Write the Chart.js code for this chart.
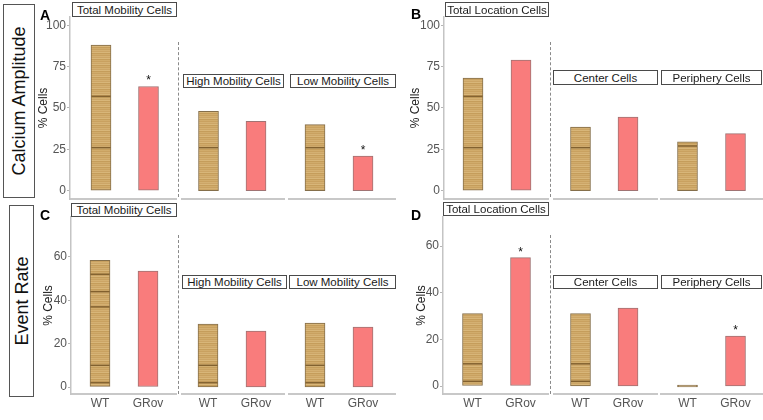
<!DOCTYPE html>
<html><head><meta charset="utf-8">
<script src="https://cdn.jsdelivr.net/npm/chart.js@4.4.1/dist/chart.umd.min.js"></script>
<style>
html,body{margin:0;padding:0;background:#fff;}
body{width:763px;height:420px;position:relative;overflow:hidden;font-family:'Liberation Sans',Arial,sans-serif;}
canvas{position:absolute;}
.strip{position:absolute;box-sizing:border-box;border:1px solid #4a4a4a;background:#fff;font-size:11.5px;color:#1a1a1a;display:flex;align-items:center;justify-content:center;white-space:nowrap;overflow:hidden;z-index:2;}
.row{position:absolute;box-sizing:border-box;border:1px solid #555;background:#fff;}
.row span{position:absolute;left:50%;top:50%;transform:translate(-50%,-50%) rotate(-90deg);font-size:18px;white-space:nowrap;color:#111;}
.letter{position:absolute;font-weight:bold;font-size:14px;line-height:1;color:#000;z-index:3;}
.dash{position:absolute;border-left:1px dashed #8a8a8a;width:0;z-index:1;}
</style></head><body>
<script>
// ---------- data ----------
const groups = ['WT', 'GRov'];
const mobilityFacets = ['Total Mobility Cells', 'High Mobility Cells', 'Low Mobility Cells'];
const locationFacets = ['Total Location Cells', 'Center Cells', 'Periphery Cells'];
const ampTicks = [0, 25, 50, 75, 100];
const rateTicks = [0, 20, 40, 60];

// Calcium Amplitude (% cells) [WT, GRov]
const ampTotalMobility = [88, 63];
const ampHighMobility = [48, 42];
const ampLowMobility = [40, 21];
const ampTotalLocation = [68, 79];
const ampCenter = [38.5, 44.5];
const ampPeriphery = [29.5, 34.5];
// Event Rate (% cells) [WT, GRov]
const rateTotalMobility = [58.5, 53.5];
const rateHighMobility = [29, 25.8];
const rateLowMobility = [29.5, 27.7];
const rateTotalLocation = [31, 55];
const rateCenter = [31, 33.4];
const ratePeriphery = [0, 21.4];

// significance markers per facet [WT, GRov]
const sigAmpMobility = [['', '*'], ['', ''], ['', '*']];
const sigAmpLocation = [['', ''], ['', ''], ['', '']];
const sigRateMobility = [['', ''], ['', ''], ['', '']];
const sigRateLocation = [['', '*'], ['', ''], ['', '*']];

// darker stripe levels visible inside WT bars
const bandsAmpMobility = [[26, 57], [26], [26]];
const bandsAmpLocation = [[26, 57], [26], [27]];
const bandsRateMobility = [[2, 10, 37, 44, 52], [2, 10], [2, 10]];
const bandsRateLocation = [[2, 9.5], [2, 9.5], []];

// ---------- layout ----------
const FONT = "'Liberation Sans', Arial, sans-serif";
Chart.defaults.font.family = FONT;

const panels = [
  { letter: 'A', lx: 40, ly: 8, facets: mobilityFacets,
    values: [ampTotalMobility, ampHighMobility, ampLowMobility], sig: sigAmpMobility, bands: bandsAmpMobility,
    ticks: ampTicks, zero: 190.7, ppu: 1.6545, top: 17, bottom: 199, xLabels: false, yAxisW: 34,
    bounds: [[70, 177], [181, 285], [288, 396]], centers: [[101, 148.5], [208.5, 256], [315, 363]],
    strips: [[72, 2, 177, 17], [183, 74, 284, 88], [290, 74, 396, 88]], dash: [178, 42, 197] },
  { letter: 'B', lx: 411, ly: 7, facets: locationFacets,
    values: [ampTotalLocation, ampCenter, ampPeriphery], sig: sigAmpLocation, bands: bandsAmpLocation,
    ticks: ampTicks, zero: 190.7, ppu: 1.6545, top: 17, bottom: 199, xLabels: false, yAxisW: 36,
    bounds: [[444, 549], [553, 658], [660, 763]], centers: [[473, 521], [580.5, 628], [687.5, 735.5]],
    strips: [[445, 2, 549, 17], [553, 70, 658, 85], [661, 70, 762, 85]], dash: [550, 42, 197] },
  { letter: 'C', lx: 40, ly: 208, facets: mobilityFacets,
    values: [rateTotalMobility, rateHighMobility, rateLowMobility], sig: sigRateMobility, bands: bandsRateMobility,
    ticks: rateTicks, zero: 387, ppu: 2.167, top: 217, bottom: 394, xLabels: true, yAxisW: 30,
    bounds: [[71, 177], [181, 285], [288, 396]], centers: [[100, 148], [208, 256], [315, 363]],
    strips: [[71, 203, 177, 217], [182, 275, 287, 289], [289, 275, 396, 289]], dash: [178, 235, 394] },
  { letter: 'D', lx: 411, ly: 208, facets: locationFacets,
    values: [rateTotalLocation, rateCenter, ratePeriphery], sig: sigRateLocation, bands: bandsRateLocation,
    ticks: rateTicks, zero: 386, ppu: 2.333, top: 217, bottom: 394, xLabels: true, yAxisW: 29,
    bounds: [[443, 549], [553, 658], [660, 763]], centers: [[472.5, 520.5], [580.5, 628], [687.5, 735.5]],
    strips: [[443, 202, 549, 216], [553, 275, 658, 289], [661, 275, 762, 289]], dash: [550, 235, 394] }
];

// WT stripe pattern
function makeWtPattern() {
  const p = document.createElement('canvas');
  p.width = 4; p.height = 6;
  const c = p.getContext('2d');
  const rows = ['#C9A160', '#D4B072', '#CCA566', '#D8B679', '#C59D5B', '#D1AC6C'];
  rows.forEach((col, i) => { c.fillStyle = col; c.fillRect(0, i, 4, 1); });
  return document.createElement('canvas').getContext('2d').createPattern(p, 'repeat');
}
const GROV_COLOR = '#F97C7C';

function addDiv(cls, css, html) {
  const d = document.createElement('div');
  d.className = cls; d.style.cssText = css;
  if (html !== undefined) d.innerHTML = html;
  document.body.appendChild(d);
  return d;
}

// row labels
addDiv('row', 'left:3px;top:4px;width:32px;height:194px;', '<span>Calcium Amplitude</span>');
addDiv('row', 'left:9px;top:205px;width:25px;height:192px;', '<span>Event Rate</span>');

panels.forEach(p => {
  addDiv('letter', `left:${p.lx}px;top:${p.ly}px;`, p.letter);
  const [dx, dy1, dy2] = p.dash;
  addDiv('dash', `left:${dx}px;top:${dy1}px;height:${dy2 - dy1}px;`);
  p.facets.forEach((name, fi) => {
    const [x1, y1, x2, y2] = p.strips[fi];
    addDiv('strip', `left:${x1}px;top:${y1}px;width:${x2 - x1}px;height:${y2 - y1}px;`, name);
    makeFacetChart(p, fi);
  });
});

function makeFacetChart(p, fi) {
  const [L, R] = p.bounds[fi];
  const [c1, c2] = p.centers[fi];
  const first = fi === 0;
  const yW = first ? p.yAxisW : 0;
  const xH = p.xLabels ? 24 : 10;
  const padTop = 10;
  const left = L - yW, top = p.top - padTop;
  const w = R - left, h = p.bottom + xH - top;
  const cv = document.createElement('canvas');
  cv.width = w; cv.height = h;
  cv.style.left = left + 'px'; cv.style.top = top + 'px';
  cv.style.width = w + 'px'; cv.style.height = h + 'px';
  document.body.appendChild(cv);

  const s = c2 - c1;
  const xmin = 1 - (c1 - L) / s;
  const xmax = 2 + (R - c2) / s;
  const yMin = -(p.bottom - p.zero) / p.ppu;
  const yMax = (p.zero - p.top) / p.ppu;
  const vals = p.values[fi];
  const marks = p.sig[fi];
  const bands = p.bands[fi];

  const markPlugin = {
    id: 'marks',
    afterDatasetsDraw(chart) {
      const ctx = chart.ctx;
      const meta = chart.getDatasetMeta(0);
      const ys = chart.scales.y;
      const wt = meta.data[0];
      ctx.save();
      ctx.strokeStyle = 'rgba(105,75,30,0.75)';
      ctx.lineWidth = 1.5;
      bands.forEach(b => {
        const y = ys.getPixelForValue(b);
        ctx.beginPath();
        ctx.moveTo(wt.x - wt.width / 2 + 0.5, y);
        ctx.lineTo(wt.x + wt.width / 2 - 0.5, y);
        ctx.stroke();
      });
      ctx.fillStyle = '#111';
      ctx.font = '12px ' + FONT;
      ctx.textAlign = 'center';
      ctx.textBaseline = 'alphabetic';
      marks.forEach((m, i) => {
        if (!m) return;
        const el = meta.data[i];
        ctx.fillText(m, el.x, el.y - 2);
      });
      ctx.restore();
    }
  };

  new Chart(cv, {
    type: 'bar',
    data: {
      datasets: [{
        data: vals.map((v, i) => ({ x: i + 1, y: v })),
        backgroundColor: [makeWtPattern(), GROV_COLOR],
        borderColor: ['rgba(120,95,55,0.9)', 'rgba(150,100,100,0.9)'],
        borderWidth: 1,
        borderSkipped: false,
        barThickness: 20,
        minBarLength: 2
      }]
    },
    options: {
      responsive: false,
      animation: false,
      devicePixelRatio: 1,
      layout: { padding: { top: padTop, left: 0, right: 0, bottom: 0 } },
      plugins: { legend: { display: false }, tooltip: { enabled: false } },
      scales: {
        x: {
          type: 'linear', offset: false, min: xmin, max: xmax,
          afterBuildTicks: sc => { sc.ticks = groups.map((g, i) => ({ value: i + 1 })); },
          ticks: { display: p.xLabels, callback: v => groups[v - 1], font: { size: 12 }, color: '#555', padding: 2, autoSkip: false, maxRotation: 0 },
          grid: { display: false, drawTicks: false },
          border: { display: true, color: '#c8c8c8', width: 2 },
          afterFit: sc => { sc.height = xH; }
        },
        y: {
          type: 'linear', display: first, min: yMin, max: yMax,
          afterBuildTicks: sc => { sc.ticks = p.ticks.map(v => ({ value: v })); },
          ticks: { font: { size: 12 }, color: '#555', padding: 1 },
          grid: { display: true, drawOnChartArea: false, drawTicks: true, tickLength: 3, color: '#b5b5b5' },
          border: { display: true, color: '#c4c4c4', width: 1.5 },
          title: { display: true, text: '% Cells', font: { size: 12 }, color: '#222', padding: 0 },
          afterFit: sc => { sc.width = yW; }
        }
      }
    },
    plugins: [markPlugin]
  });
}
</script>
</body></html>
